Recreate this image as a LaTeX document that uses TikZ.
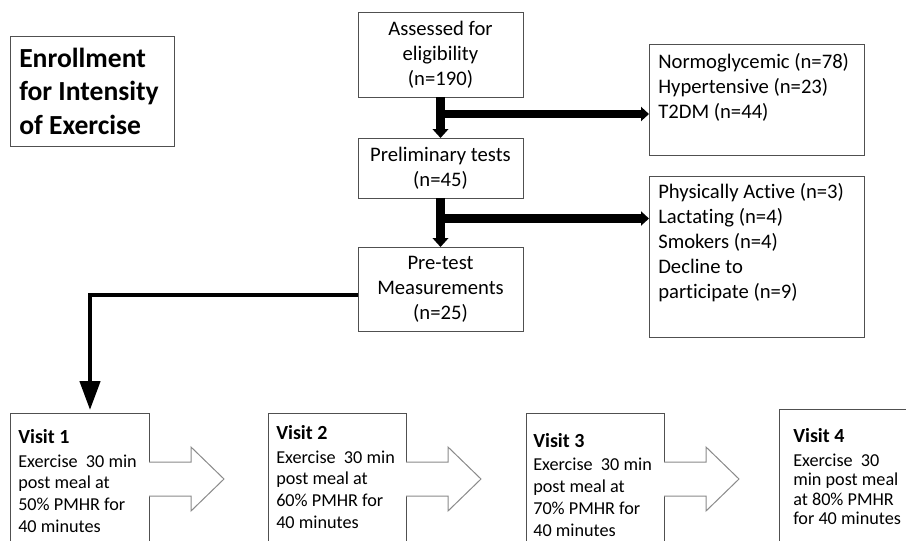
\documentclass[tikz,border=0pt]{standalone}
\usepackage{fontspec}
\setmainfont{Carlito}[Ligatures=NoCommon]
\usetikzlibrary{arrows.meta}
\definecolor{boxgray}{HTML}{505050}
\definecolor{arrgray}{HTML}{8A8A8A}
\newcommand\myvlab{\fontsize{15}{17.6}\selectfont\bfseries}
\begin{document}
\begin{tikzpicture}[x=0.75pt,y=-0.75pt,
  box/.style={draw=boxgray,line width=0.75pt,inner sep=0pt,outer sep=0pt,anchor=center},
  ctext/.style={font=\fontsize{15.5}{18.75}\selectfont,align=center},
  ltext/.style={font=\fontsize{15.5}{18.75}\selectfont,align=left,inner sep=0pt,anchor=base west},
  vtext/.style={font=\fontsize{13.65}{16.35}\selectfont,align=left,inner sep=0pt,anchor=base west},
  ttext/.style={font=\fontsize{20.7}{25}\selectfont\bfseries,align=left,inner sep=0pt,anchor=base west},
  fatarrow/.style={line width=6.4pt,draw=black,-{Triangle[width=11.7pt,length=6.75pt]}},
  fatbranch/.style={line width=6.4pt,draw=black,-{Triangle[width=10.5pt,length=6pt]}},
  thinarrow/.style={line width=3.4pt,draw=black,-{Triangle[width=15pt,length=21.75pt]}},
  blockfill/.style={fill=white,draw=none},
  blockline/.style={draw=arrgray,line width=0.75pt,line join=miter}
]
\useasboundingbox (0,0) rectangle (906,540);
\clip (0,0) rectangle (906,540);

% title
\node[box,minimum width=123pt,minimum height=82.5pt] (title) at (92,91) {};
\node[ttext] (titletxt) at (19,134) {Enrollment\\for Intensity\\of Exercise};

% main column
\node[box,ctext,minimum width=123.75pt,minimum height=63.75pt] (assess) at (440.5,54.5) {Assessed for\\eligibility\\(n=190)};
\node[box,ctext,minimum width=123.75pt,minimum height=45pt] (prelim) at (440.5,168) {Preliminary tests\\(n=45)};
\node[box,ctext,minimum width=123.75pt,minimum height=63pt] (pretest) at (440.5,289) {Pre-test\\Measurements\\(n=25)};

% exclusion boxes
\node[box,minimum width=161.25pt,minimum height=83.25pt] (excl1) at (756.5,99.5) {};
\node[ltext] (excl1txt) at (658,118) {Normoglycemic (n=78)\\Hypertensive (n=23)\\T2DM (n=44)};
\node[box,minimum width=161.25pt,minimum height=120.75pt] (excl2) at (756.5,256.5) {};
\node[ltext] (excl2txt) at (658,298) {Physically Active (n=3)\\Lactating (n=4)\\Smokers (n=4)\\Decline to\\participate (n=9)};

% visit boxes
\node[box,minimum width=104.25pt,minimum height=110.25pt] (v1) at (79.5,486.5) {};
\node[box,minimum width=103.5pt,minimum height=110.25pt] (v2) at (337,486.5) {};
\node[box,minimum width=103.5pt,minimum height=110.25pt] (v3) at (595,486.5) {};
\node[box,minimum width=113.25pt,minimum height=113.25pt] (v4) at (854.5,484.5) {};

\node[vtext] (v1txt) at (18,532.5) {{\myvlab Visit 1}\\[1.2pt]Exercise\ \ 30 min\\post meal at\\50\% PMHR for\\40 minutes};
\node[vtext] (v2txt) at (276,528.5) {{\myvlab Visit 2}\\[1.2pt]Exercise\ \ 30 min\\post meal at\\60\% PMHR for\\40 minutes};
\node[vtext] (v3txt) at (533,536) {{\myvlab Visit 3}\\[1.2pt]Exercise\ \ 30 min\\post meal at\\70\% PMHR for\\40 minutes};
\node[vtext,font=\fontsize{13.65}{14.6}\selectfont] (v4txt) at (793,524.5) {{\myvlab Visit 4}\\[3pt]Exercise\ \ 30\\min post meal\\at 80\% PMHR\\for 40 minutes};

% block arrows between visits
\foreach \a in {149,406,664}{
  \fill[blockfill] (\a-1,462) -- (\a+42,462) -- (\a+42,447) -- (\a+75,479) -- (\a+42,511) -- (\a+42,496) -- (\a-1,496) -- cycle;
  \draw[blockline] (\a,462) -- (\a+42,462) -- (\a+42,447) -- (\a+75,479) -- (\a+42,511) -- (\a+42,496) -- (\a,496);
}

% connectors
\coordinate (b1) at (441,114);
\coordinate (b2) at (441,218.5);
\coordinate (pt) at (358,295);
\coordinate (corner) at (90,295);
\coordinate (v1top) at (90,410);

\draw[fatarrow] (assess.south) -- (prelim.north);
\draw[fatarrow] (prelim.south) -- (pretest.north);
\draw[fatbranch] (b1) -- (excl1.west |- b1);
\draw[fatbranch] (b2) -- (excl2.west |- b2);
\draw[thinarrow] (pretest.west |- pt) -- (corner) -- (v1top);
\end{tikzpicture}
\end{document}
